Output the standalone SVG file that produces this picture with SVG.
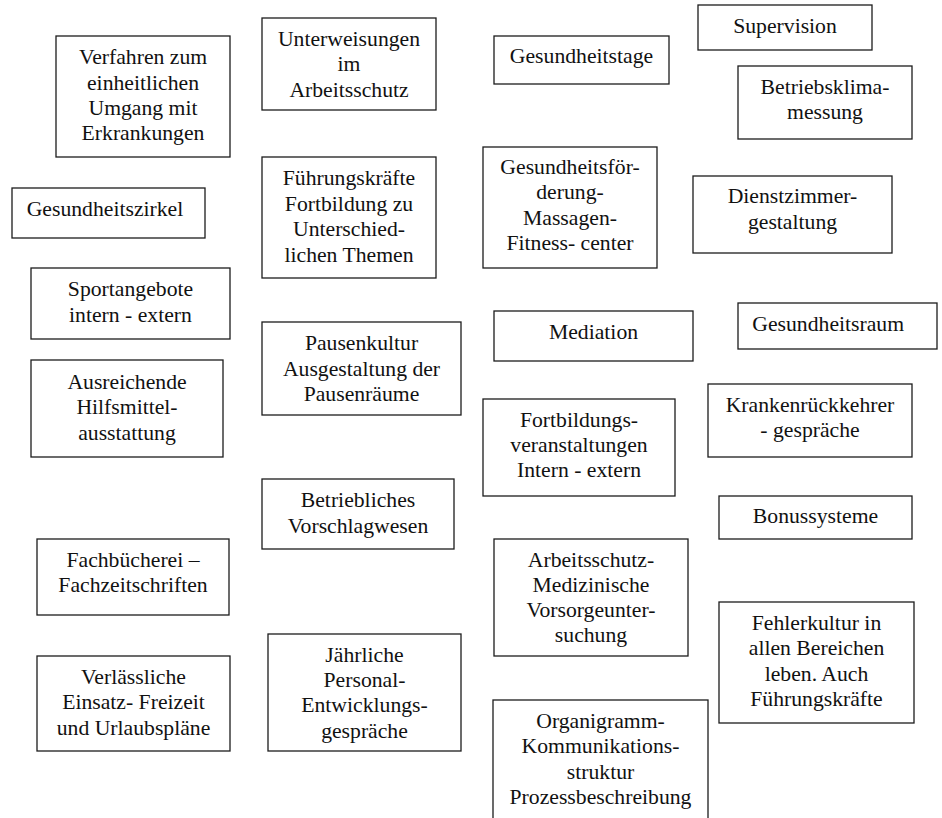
<svg xmlns="http://www.w3.org/2000/svg" width="942" height="818" viewBox="0 0 942 818" font-family="Liberation Serif, Times New Roman, serif" font-size="21.7">
<style>
.box{fill:#fff;stroke:#1c1c1c;stroke-width:1.3}
.t{font-family:"Liberation Serif","Times New Roman",Times,serif;font-size:21.7px;fill:#111;text-anchor:middle}
.l{text-anchor:start}
</style>
<rect x="0" y="0" width="942" height="818" fill="#fff"/>
<g id="connectors"/>
<g id="verfahren"><rect class="box" x="56" y="36" width="174" height="121"/><text class="t"><tspan x="143" y="64">Verfahren zum</tspan><tspan x="143" y="89.5">einheitlichen</tspan><tspan x="143" y="115">Umgang mit</tspan><tspan x="143" y="140.3">Erkrankungen</tspan></text></g>
<g id="unterweisungen"><rect class="box" x="262" y="18" width="174" height="92"/><text class="t"><tspan x="349" y="45.7">Unterweisungen</tspan><tspan x="349" y="71">im</tspan><tspan x="349" y="96.5">Arbeitsschutz</tspan></text></g>
<g id="gesundheitszirkel"><rect class="box" x="12" y="188" width="193" height="50"/><text class="t l" x="26.7" y="216">Gesundheitszirkel</text></g>
<g id="fuehrungskraefte"><rect class="box" x="262" y="157" width="174" height="121"/><text class="t"><tspan x="349" y="185">Führungskräfte</tspan><tspan x="349" y="210.5">Fortbildung zu</tspan><tspan x="349" y="236">Unterschied-</tspan><tspan x="349" y="261.5">lichen Themen</tspan></text></g>
<g id="sportangebote"><rect class="box" x="31" y="268" width="199" height="71"/><text class="t"><tspan x="130.5" y="296">Sportangebote</tspan><tspan x="130.5" y="321.5">intern - extern</tspan></text></g>
<g id="ausreichende"><rect class="box" x="31" y="360" width="192" height="97"/><text class="t"><tspan x="127" y="389">Ausreichende</tspan><tspan x="127" y="414.4">Hilfsmittel-</tspan><tspan x="127" y="440">ausstattung</tspan></text></g>
<g id="pausenkultur"><rect class="box" x="262" y="322" width="199" height="93"/><text class="t"><tspan x="361.5" y="350">Pausenkultur</tspan><tspan x="361.5" y="375.5">Ausgestaltung der</tspan><tspan x="361.5" y="401">Pausenräume</tspan></text></g>
<g id="betriebliches"><rect class="box" x="262" y="479" width="192" height="70"/><text class="t"><tspan x="358" y="507.3">Betriebliches</tspan><tspan x="358" y="532.7">Vorschlagwesen</tspan></text></g>
<g id="fachbuecherei"><rect class="box" x="37" y="539" width="192" height="76"/><text class="t"><tspan x="133" y="566.7">Fachbücherei –</tspan><tspan x="133" y="592">Fachzeitschriften</tspan></text></g>
<g id="verlaessliche"><rect class="box" x="37" y="656" width="193" height="95"/><text class="t"><tspan x="133.5" y="684">Verlässliche</tspan><tspan x="133.5" y="709.3">Einsatz- Freizeit</tspan><tspan x="133.5" y="734.7">und Urlaubspläne</tspan></text></g>
<g id="jaehrliche"><rect class="box" x="268" y="634" width="193" height="117"/><text class="t"><tspan x="364.5" y="661.7">Jährliche</tspan><tspan x="364.5" y="687">Personal-</tspan><tspan x="364.5" y="712.3">Entwicklungs-</tspan><tspan x="364.5" y="737.5">gespräche</tspan></text></g>
<g id="gesundheitstage"><rect class="box" x="494" y="36" width="175" height="48"/><text class="t" x="581.5" y="63.3">Gesundheitstage</text></g>
<g id="supervision"><rect class="box" x="698" y="5" width="174" height="45"/><text class="t" x="785" y="33.3">Supervision</text></g>
<g id="betriebsklima"><rect class="box" x="738" y="66" width="174" height="73"/><text class="t"><tspan x="825" y="94">Betriebsklima-</tspan><tspan x="825" y="119.3">messung</tspan></text></g>
<g id="gesundheitsfoerderung"><rect class="box" x="483" y="147" width="174" height="121"/><text class="t"><tspan x="570" y="174">Gesundheitsför-</tspan><tspan x="570" y="199.3">derung-</tspan><tspan x="570" y="224.7">Massagen-</tspan><tspan x="570" y="250">Fitness- center</tspan></text></g>
<g id="dienstzimmer"><rect class="box" x="693" y="176" width="199" height="77"/><text class="t"><tspan x="792.5" y="203.3">Dienstzimmer-</tspan><tspan x="792.5" y="228.7">gestaltung</tspan></text></g>
<g id="mediation"><rect class="box" x="494" y="311" width="199" height="50"/><text class="t" x="593.5" y="339">Mediation</text></g>
<g id="gesundheitsraum"><rect class="box" x="738" y="303" width="199" height="46"/><text class="t l" x="752.3" y="330.7">Gesundheitsraum</text></g>
<g id="krankenrueckkehrer"><rect class="box" x="708" y="384" width="204" height="73"/><text class="t"><tspan x="810" y="412.3">Krankenrückkehrer</tspan><tspan x="810" y="437.3">- gespräche</tspan></text></g>
<g id="fortbildungs"><rect class="box" x="483" y="399" width="192" height="97"/><text class="t"><tspan x="579" y="426.7">Fortbildungs-</tspan><tspan x="579" y="452.3">veranstaltungen</tspan><tspan x="579" y="477.3">Intern - extern</tspan></text></g>
<g id="bonussysteme"><rect class="box" x="719" y="496" width="193" height="43"/><text class="t" x="815.5" y="523.3">Bonussysteme</text></g>
<g id="arbeitsschutz"><rect class="box" x="494" y="539" width="194" height="117"/><text class="t"><tspan x="591" y="566.7">Arbeitsschutz-</tspan><tspan x="591" y="592">Medizinische</tspan><tspan x="591" y="617">Vorsorgeunter-</tspan><tspan x="591" y="642.3">suchung</tspan></text></g>
<g id="fehlerkultur"><rect class="box" x="719" y="602" width="195" height="121"/><text class="t"><tspan x="816.5" y="630">Fehlerkultur in</tspan><tspan x="816.5" y="655">allen Bereichen</tspan><tspan x="816.5" y="680.7">leben. Auch</tspan><tspan x="816.5" y="706">Führungskräfte</tspan></text></g>
<g id="organigramm"><rect class="box" x="493" y="700" width="215" height="130"/><text class="t"><tspan x="600.5" y="728.3">Organigramm-</tspan><tspan x="600.5" y="753.3">Kommunikations-</tspan><tspan x="600.5" y="779">struktur</tspan><tspan x="600.5" y="804">Prozessbeschreibung</tspan></text></g>
</svg>
